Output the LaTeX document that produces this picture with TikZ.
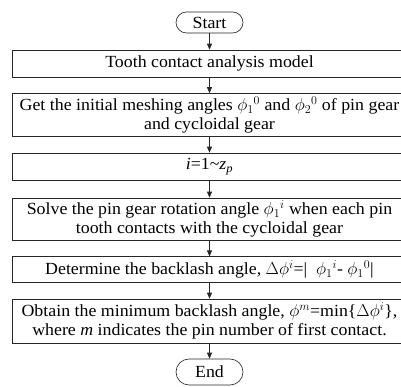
\documentclass[tikz,border=0pt]{standalone}
\usepackage{fontspec}
\setmainfont{Liberation Serif}[FakeStretch=1.05]
\usetikzlibrary{arrows.meta}
\begin{document}
\begin{tikzpicture}[x=1pt,y=-1pt,
  txt/.style={font=\fontsize{17}{18.7}\selectfont},
  box/.style={txt, draw=black!85, line width=0.65pt, minimum width=394.4pt, inner sep=0pt, align=center},
  term/.style={txt, draw=black!85, line width=0.65pt, minimum width=67pt, inner sep=0pt},
  arr/.style={draw=black!85, line width=0.65pt, -{Triangle[length=6pt,width=5pt]}}]
\useasboundingbox (0,0) rectangle (401,386);
\clip (0,0) rectangle (401,386);
\node[term, minimum height=21pt, rounded corners=10.5pt] (start) at (209.5,22.5) {Start};
\node[box, minimum height=27pt] (b1) at (209.5,63.5) {Tooth contact analysis model};
\node[box, minimum height=43pt] (b2) at (209.5,115) {Get the initial meshing angles $\phi_1{}^0$ and $\phi_2{}^0$ of pin gear\\ and cycloidal gear};
\node[box, minimum height=27pt] (b3) at (209.5,166.5) {\textit{i}=1\textasciitilde\textit{z}\textsubscript{\textit{p}}};
\node[box, minimum height=42pt] (b4) at (209.5,219) {Solve the pin gear rotation angle $\phi_1{}^i$ when each pin\\ tooth contacts with the cycloidal gear};
\node[box, minimum height=25.5pt] (b5) at (209.5,269.5) {Determine the backlash angle, $\Delta\phi^i$=|\ \ $\phi_1{}^i$- $\phi_1{}^0$|};
\node[box, minimum height=44pt] (b6) at (209.5,321) {Obtain the minimum backlash angle, $\phi^m$=min\{$\Delta\phi^i$\},\\ where \textit{m} indicates the pin number of first contact.};
\node[term, minimum height=26pt, rounded corners=13pt] (end) at (209.5,372) {End};
\draw[arr] (start) -- (b1);
\draw[arr] (b1) -- (b2);
\draw[arr] (b2) -- (b3);
\draw[arr] (b3) -- (b4);
\draw[arr] (b4) -- (b5);
\draw[arr] (b5) -- (b6);
\draw[arr] (b6) -- (end);
\end{tikzpicture}
\end{document}
